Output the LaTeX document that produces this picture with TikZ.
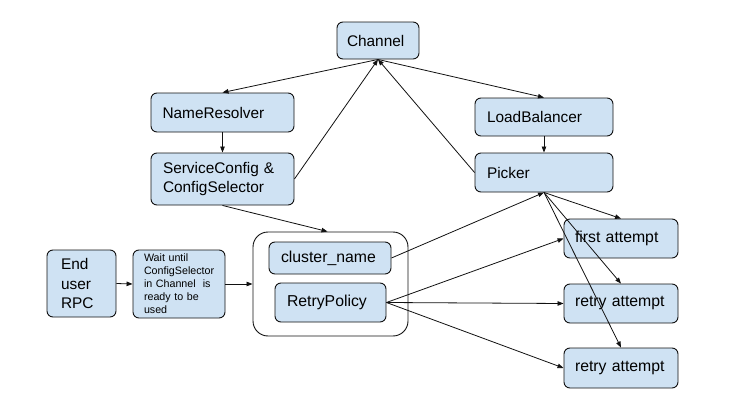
\documentclass[tikz,border=0pt]{standalone}
\usepackage{fontspec}
\setmainfont{Liberation Sans}
\usetikzlibrary{arrows.meta}
\definecolor{boxfill}{HTML}{CFE2F3}
\definecolor{edge}{HTML}{111111}
\tikzset{
  box/.style={draw=edge, line width=0.9pt, fill=boxfill, rounded corners=6pt,
    align=left, inner xsep=12pt, inner ysep=0pt, anchor=center,
    font=\fontsize{15.4}{19.5}\selectfont},
  frame/.style={draw=edge, line width=0.9pt, fill=white, rounded corners=15pt, inner sep=0pt},
  conn/.style={draw=edge, line width=0.8pt, -{Triangle[length=6pt,width=4.5pt]}},
}
\begin{document}
\begin{tikzpicture}[x=1pt,y=-1pt]
\useasboundingbox (0,0) rectangle (732,415);
% top
\node[box, minimum width=82pt, minimum height=37pt, text width=62pt, inner xsep=10pt] (channel) at (378,40.5) {Channel};
\node[box, minimum width=143pt, minimum height=39pt, text width=120pt, inner xsep=11.5pt] (nameres) at (222.5,112.5) {NameResolver};
\node[box, minimum width=143pt, minimum height=52pt, text width=119pt] (sc) at (222.5,179) {ServiceConfig \&\\ConfigSelector};
\node[box, minimum width=138pt, minimum height=38pt, text width=114pt] (lb) at (544,117) {LoadBalancer};
\node[box, minimum width=138pt, minimum height=39pt, text width=114pt] (picker) at (544,172.5) {Picker};
% attempts
\node[box, minimum width=114pt, minimum height=39pt, text width=92pt, inner xsep=11pt, font=\fontsize{15.8}{19}\selectfont] (first) at (621,238.5) {first attempt};
\node[box, minimum width=114pt, minimum height=39pt, text width=92pt, inner xsep=11pt, font=\fontsize{15.8}{19}\selectfont] (retry1) at (621,303.5) {retry attempt};
\node[box, minimum width=114pt, minimum height=40pt, text width=92pt, inner xsep=11pt, font=\fontsize{15.8}{19}\selectfont] (retry2) at (621,368) {retry attempt};
% container
\node[frame, minimum width=155pt, minimum height=104pt] (container) at (330.5,284) {};
\node[box, minimum width=122pt, minimum height=32pt, text width=98pt, font=\fontsize{15.8}{19}\selectfont] (cluster) at (330,258) {cluster\_name};
\node[box, minimum width=111pt, minimum height=39pt, text width=87pt, font=\fontsize{15.8}{19}\selectfont] (retrypol) at (330.5,302.5) {RetryPolicy};
% left
\node[box, minimum width=92pt, minimum height=68pt, text width=70pt, inner xsep=11pt, font=\fontsize{10.7}{13}\selectfont] (wait) at (179,284) {Wait until\\ConfigSelector\\in Channel\ \ is\\ready to be\\used};
\node[box, minimum width=69pt, minimum height=67pt, text width=41pt, inner xsep=14pt] (enduser) at (81.5,283.5) {End\\user\\RPC};
% connectors
\draw[conn] (channel.south) -- (nameres.north);
\draw[conn] (channel.south) -- (lb.north);
\draw[conn] (nameres.south) -- (sc.north);
\draw[conn] (lb.south) -- (picker.north);
\draw[conn] (sc.east) -- (channel.south);
\draw[conn] (picker.west) -- (channel.south);
\draw[conn] (sc.south) -- ([xshift=-3pt]container.north);
\draw[conn] (enduser.east) -- (wait.west);
\draw[conn] (wait.east) -- (container.west);
\draw[conn] (cluster.east) -- (picker.south);
\draw[conn] (retrypol.east) -- (first.west);
\draw[conn] (retrypol.east) -- (retry1.west);
\draw[conn] (retrypol.east) -- (retry2.west);
\draw[conn] (picker.south) -- (first.north);
\draw[conn] (picker.south) -- (retry1.north);
\draw[conn] (picker.south) -- (retry2.north);
\end{tikzpicture}
\end{document}
